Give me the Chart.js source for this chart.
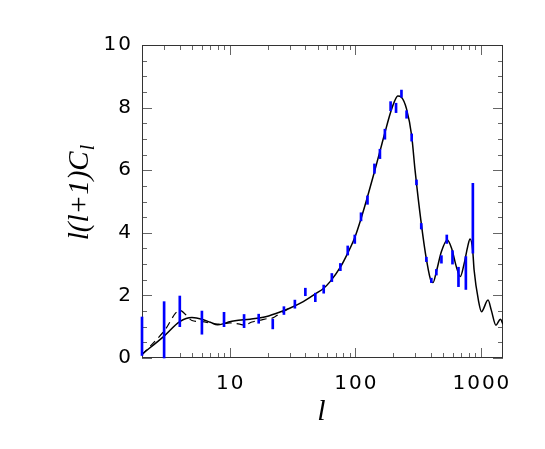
<!DOCTYPE html>
<html>
<head>
<meta charset="utf-8">
<script src="https://cdn.jsdelivr.net/npm/chart.js@4/dist/chart.umd.min.js"></script>
<style>
  html, body { margin: 0; padding: 0; background: #fff; }
</style>
</head>
<body>
<canvas id="cl" width="545" height="449"></canvas>
<script>
// --- DATA ---

// Theory curve (solid)
const modelL = [2, 3, 4, 5, 6, 7, 8, 9, 10, 11, 14.5, 18.5, 23.6, 30, 38.5, 49, 56, 63, 76, 87, 99, 111, 125, 142, 157, 172, 191, 205, 218, 233, 256, 281, 299, 335, 368, 403, 416, 442, 485, 540, 585, 637, 685, 737, 785, 820, 860, 883, 960, 1010, 1140, 1210, 1318, 1430, 1500];
const modelCl = [0.12, 0.7, 1.16, 1.29, 1.24, 1.14, 1.06, 1.1, 1.16, 1.19, 1.24, 1.3, 1.43, 1.59, 1.8, 2.07, 2.23, 2.44, 2.9, 3.35, 3.85, 4.45, 5.15, 5.95, 6.6, 7.2, 7.85, 8.2, 8.37, 8.33, 7.95, 7.1, 6.0, 4.3, 3.16, 2.44, 2.41, 2.76, 3.4, 3.77, 3.5, 2.92, 2.6, 3.03, 3.56, 3.8, 3.45, 2.81, 1.8, 1.48, 1.85, 1.53, 1.05, 1.24, 1.08];

// Alternative curve at low l (dashed)
const altL = [2, 3, 4, 5, 6, 7, 8, 9, 10, 12, 13, 15, 18, 20, 22, 25, 30];
const altCl = [0.1, 0.86, 1.52, 1.2, 1.16, 1.12, 1.08, 1.1, 1.12, 1.08, 1.05, 1.15, 1.22, 1.26, 1.28, 1.42, 1.59];

// Measured band powers (error bars)
const obsL  = [2, 3, 4, 6, 9, 13, 17, 22, 27, 33, 40, 48, 56, 65, 76, 87, 99, 111, 125, 142, 157, 172, 191, 211, 233, 256, 281, 307, 335, 368, 403, 442, 485, 535, 594, 663, 759, 863];
const obsLo = [0.08, 0.0, 1.0, 0.76, 1.0, 0.97, 1.11, 0.93, 1.39, 1.59, 1.99, 1.8, 2.07, 2.44, 2.79, 3.29, 3.66, 4.38, 4.91, 5.9, 6.37, 6.99, 7.9, 7.84, 8.33, 7.66, 6.93, 5.53, 4.12, 3.08, 2.41, 2.65, 3.03, 3.66, 3.0, 2.28, 2.19, 3.35];
const obsHi = [1.31, 1.8, 1.98, 1.5, 1.46, 1.39, 1.4, 1.24, 1.64, 1.85, 2.23, 2.07, 2.33, 2.7, 3.02, 3.58, 3.93, 4.64, 5.18, 6.2, 6.67, 7.31, 8.19, 8.14, 8.56, 7.9, 7.16, 5.69, 4.3, 3.22, 2.55, 2.83, 3.27, 3.93, 3.43, 2.9, 3.24, 5.58];

// Axis ticks
const xLabelTicks = [10, 100, 1000];
const yLabelTicks = [0, 2, 4, 6, 8, 10];

const xTickMarks = [];
for (const d of [1, 10, 100, 1000]) {
    for (let m = 1; m <= 9; m++) {
        const v = m * d;
        if (v >= 2 && v <= 1500) xTickMarks.push(v);
    }
}
const yTickMarks = [];
for (let v = 0; v <= 10; v += 0.5) yTickMarks.push(v);

const labelFont = { family: '"DejaVu Sans", sans-serif', size: 20, weight: '400' };

// --- PLUGINS ---

// Bredere tal-labels (IDL-fonten er meget bred)
const wideLabels = {
    id: 'wideLabels',
    beforeDraw(chart) { chart.ctx.letterSpacing = '2px'; },
    afterDraw(chart) { chart.ctx.letterSpacing = '0px'; }
};

// Rammen og de indadvendte tick-streger (som i IDL)
const frameTicks = {
    id: 'frameTicks',
    beforeDatasetsDraw(chart) {
        const { ctx, chartArea: a, scales: { x, y } } = chart;
        ctx.save();
        ctx.lineWidth = 1;
        ctx.strokeStyle = '#666';
        ctx.beginPath();
        yTickMarks.forEach(v => {
            const py = Math.round(y.getPixelForValue(v)) + 0.5;
            const len = yLabelTicks.includes(v) ? 10 : 5;
            ctx.moveTo(a.left, py); ctx.lineTo(a.left + len, py);
            ctx.moveTo(a.right, py); ctx.lineTo(a.right - len, py);
        });
        xTickMarks.forEach(v => {
            const px = Math.round(x.getPixelForValue(v)) + 0.5;
            const len = xLabelTicks.includes(v) ? 10 : 5;
            ctx.moveTo(px, a.bottom); ctx.lineTo(px, a.bottom - len);
            ctx.moveTo(px, a.top); ctx.lineTo(px, a.top + len);
        });
        ctx.stroke();
        ctx.strokeStyle = '#333';
        ctx.strokeRect(a.left + 0.5, a.top + 0.5, a.right - a.left - 1, a.bottom - a.top - 1);
        ctx.restore();
    }
};

// Y-aksens titel med subscript
const yTitle = {
    id: 'yTitle',
    afterDraw(chart) {
        const { ctx } = chart;
        const main = 'l(l+1)C', sub = 'l';
        ctx.save();
        ctx.letterSpacing = '0px';
        ctx.translate(78, 193);
        ctx.rotate(-Math.PI / 2);
        ctx.fillStyle = '#000';
        ctx.textBaseline = 'alphabetic';
        ctx.font = 'italic 29px "Liberation Serif", serif';
        const wMain = ctx.measureText(main).width;
        ctx.font = 'italic 20px "Liberation Serif", serif';
        const wSub = ctx.measureText(sub).width;
        const x0 = -(wMain + wSub) / 2;
        ctx.font = 'italic 29px "Liberation Serif", serif';
        ctx.fillText(main, x0, 10);
        ctx.font = 'italic 20px "Liberation Serif", serif';
        ctx.fillText(sub, x0 + wMain + 1, 16);
        ctx.restore();
    }
};

// --- CHART ---

const ctx = document.getElementById('cl').getContext('2d');
new Chart(ctx, {
    type: 'line',
    data: {
        datasets: [
            {
                type: 'bar',
                data: obsL.map((l, i) => ({ x: l, y: [obsLo[i], obsHi[i]] })),
                backgroundColor: '#0000ff',
                borderWidth: 0,
                barThickness: 2,
                clip: false,
                order: 0
            },
            {
                data: modelL.map((l, i) => ({ x: l, y: modelCl[i] })),
                borderColor: '#000',
                borderWidth: 1.5,
                pointRadius: 0,
                cubicInterpolationMode: 'monotone',
                order: 1
            },
            {
                data: altL.map((l, i) => ({ x: l, y: altCl[i] })),
                borderColor: '#000',
                borderWidth: 1.2,
                borderDash: [7, 5],
                pointRadius: 0,
                cubicInterpolationMode: 'monotone',
                order: 2
            }
        ]
    },
    options: {
        responsive: false,
        animation: false,
        layout: { padding: { top: 45, right: 42, left: 0, bottom: 0 } },
        plugins: { legend: { display: false }, tooltip: { enabled: false } },
        scales: {
            x: {
                type: 'logarithmic',
                min: 2, max: 1500,
                offset: false,
                grid: { display: false, drawTicks: false },
                border: { display: false },
                afterBuildTicks: s => { s.ticks = xLabelTicks.map(v => ({ value: v })); },
                afterFit: s => { s.height = 91; },
                ticks: {
                    autoSkip: false, maxRotation: 0, padding: 14, labelOffset: 1,
                    color: '#000', font: labelFont,
                    callback: v => String(v)
                },
                title: {
                    display: true, text: 'l', color: '#000',
                    font: { family: '"Liberation Serif", serif', size: 30, style: 'italic' },
                    padding: { top: 0, bottom: 19 }
                }
            },
            y: {
                type: 'linear',
                min: 0, max: 10,
                grid: { display: false, drawTicks: false },
                border: { display: false },
                afterBuildTicks: s => { s.ticks = yLabelTicks.map(v => ({ value: v })); },
                afterFit: s => { s.width = 142; },
                ticks: { padding: 9, color: '#000', font: labelFont }
            }
        }
    },
    plugins: [wideLabels, frameTicks, yTitle]
});
</script>
</body>
</html>
